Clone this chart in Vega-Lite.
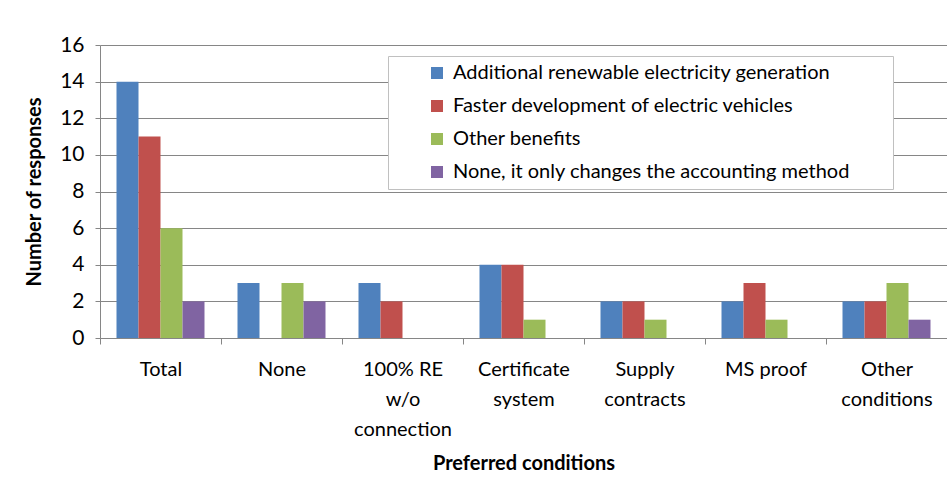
{
  "$schema": "https://vega.github.io/schema/vega-lite/v6.json",
  "width": 847,
  "height": 293,
  "autosize": {"type": "none"},
  "padding": {"left": 100, "top": 45, "right": 0, "bottom": 143},
  "background": "white",
  "data": {
    "values": [
      {"cond": "Total", "series": "Additional renewable electricity generation", "value": 14},
      {"cond": "Total", "series": "Faster development of electric vehicles", "value": 11},
      {"cond": "Total", "series": "Other benefits", "value": 6},
      {"cond": "Total", "series": "None, it only changes the accounting method", "value": 2},
      {"cond": "None", "series": "Additional renewable electricity generation", "value": 3},
      {"cond": "None", "series": "Faster development of electric vehicles", "value": 0},
      {"cond": "None", "series": "Other benefits", "value": 3},
      {"cond": "None", "series": "None, it only changes the accounting method", "value": 2},
      {"cond": "100% RE|w/o|connection", "series": "Additional renewable electricity generation", "value": 3},
      {"cond": "100% RE|w/o|connection", "series": "Faster development of electric vehicles", "value": 2},
      {"cond": "100% RE|w/o|connection", "series": "Other benefits", "value": 0},
      {"cond": "100% RE|w/o|connection", "series": "None, it only changes the accounting method", "value": 0},
      {"cond": "Certificate|system", "series": "Additional renewable electricity generation", "value": 4},
      {"cond": "Certificate|system", "series": "Faster development of electric vehicles", "value": 4},
      {"cond": "Certificate|system", "series": "Other benefits", "value": 1},
      {"cond": "Certificate|system", "series": "None, it only changes the accounting method", "value": 0},
      {"cond": "Supply|contracts", "series": "Additional renewable electricity generation", "value": 2},
      {"cond": "Supply|contracts", "series": "Faster development of electric vehicles", "value": 2},
      {"cond": "Supply|contracts", "series": "Other benefits", "value": 1},
      {"cond": "Supply|contracts", "series": "None, it only changes the accounting method", "value": 0},
      {"cond": "MS proof", "series": "Additional renewable electricity generation", "value": 2},
      {"cond": "MS proof", "series": "Faster development of electric vehicles", "value": 3},
      {"cond": "MS proof", "series": "Other benefits", "value": 1},
      {"cond": "MS proof", "series": "None, it only changes the accounting method", "value": 0},
      {"cond": "Other|conditions", "series": "Additional renewable electricity generation", "value": 2},
      {"cond": "Other|conditions", "series": "Faster development of electric vehicles", "value": 2},
      {"cond": "Other|conditions", "series": "Other benefits", "value": 3},
      {"cond": "Other|conditions", "series": "None, it only changes the accounting method", "value": 1}
    ]
  },
  "mark": {"type": "bar"},
  "encoding": {
    "x": {
      "field": "cond",
      "type": "nominal",
      "sort": ["Total", "None", "100% RE|w/o|connection", "Certificate|system", "Supply|contracts", "MS proof", "Other|conditions"],
      "scale": {"paddingInner": 0, "paddingOuter": 0},
      "title": "Preferred conditions",
      "axis": {
        "labelAngle": 0,
        "labelExpr": "split(datum.label, '|')",
        "labelFontSize": 20,
        "labelLineHeight": 30,
        "labelBaseline": "top",
        "labelPadding": 15,
        "labelColor": "#000000",
        "tickBand": "extent",
        "tickSize": 6,
        "tickColor": "#868686",
        "domainColor": "#868686",
        "titleFontSize": 20,
        "titleFontWeight": "bold",
        "titleColor": "#000000",
        "titlePadding": 14
      }
    },
    "xOffset": {
      "field": "series",
      "sort": ["Additional renewable electricity generation", "Faster development of electric vehicles", "Other benefits", "None, it only changes the accounting method"],
      "scale": {"paddingInner": 0, "paddingOuter": 0.75}
    },
    "y": {
      "field": "value",
      "type": "quantitative",
      "scale": {"domain": [0, 16], "nice": false},
      "title": "Number of responses",
      "axis": {
        "values": [0, 2, 4, 6, 8, 10, 12, 14, 16],
        "labelFontSize": 21,
        "labelColor": "#000000",
        "labelPadding": 11,
        "tickSize": 5,
        "tickColor": "#868686",
        "domainColor": "#868686",
        "gridColor": "#868686",
        "titleFontSize": 20,
        "titleFontWeight": "bold",
        "titleColor": "#000000",
        "titlePadding": 15
      }
    },
    "color": {
      "field": "series",
      "type": "nominal",
      "scale": {
        "domain": ["Additional renewable electricity generation", "Faster development of electric vehicles", "Other benefits", "None, it only changes the accounting method"],
        "range": ["#4F81BD", "#C0504D", "#9BBB59", "#8064A2"]
      },
      "legend": {
        "title": "\u00a0",
        "titleOrient": "right",
        "titlePadding": 36,
        "titleFontSize": 2,
        "orient": "none",
        "legendX": 288,
        "legendY": 11,
        "padding": 7,
        "strokeColor": "#c0c0c0",
        "fillColor": "white",
        "symbolType": "square",
        "symbolSize": 144,
        "symbolOffset": 32,
        "symbolStrokeWidth": 0,
        "labelFontSize": 20,
        "labelColor": "#000000",
        "labelOffset": 6,
        "labelLimit": 500,
        "rowPadding": 13
      }
    }
  },
  "config": {
    "view": {"stroke": null},
    "font": "Lato"
  }
}
